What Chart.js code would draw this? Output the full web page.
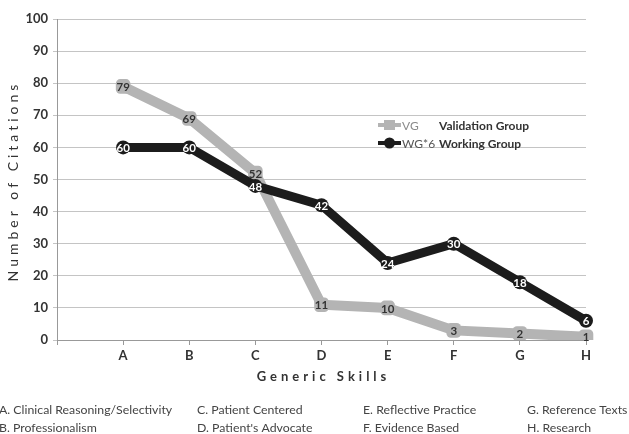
<!DOCTYPE html>
<html>
<head>
<meta charset="utf-8">
<script src="https://cdn.jsdelivr.net/npm/chart.js@4.4.1/dist/chart.umd.min.js"></script>
<style>
html,body{margin:0;padding:0;background:#fff;}
#wrap{width:629px;height:434px;position:relative;}
</style>
</head>
<body>
<div id="wrap"><canvas id="c" width="629" height="434"></canvas></div>
<script>
const categories = ['', 'A', 'B', 'C', 'D', 'E', 'F', 'G', 'H'];
const vgValues = [null, 79, 69, 52, 11, 10, 3, 2, 1];
const wgValues = [null, 60, 60, 48, 42, 24, 30, 18, 6];
const seriesNames = ['VG', 'WG*6'];
const seriesDescriptions = ['Validation Group', 'Working Group'];
const yTicks = [0, 10, 20, 30, 40, 50, 60, 70, 80, 90, 100];
const footnotes = [
  ['A. Clinical Reasoning/Selectivity', 'B. Professionalism'],
  ['C. Patient Centered', "D. Patient's Advocate"],
  ['E. Reflective Practice', 'F. Evidence Based'],
  ['G. Reference Texts', 'H. Research']
];
const yTitle = 'Number of Citations';
const xTitle = 'Generic Skills';

const FONT = 'Lato, "Open Sans", sans-serif';
const GRAY = '#b4b4b4';
const BLACK = '#1c1c1c';

const labelPlugin = {
  id: 'pointLabels',
  afterDatasetsDraw(chart) {
    const ctx = chart.ctx;
    ctx.save();
    ctx.font = 'bold 11.5px ' + FONT;
    ctx.textAlign = 'center';
    ctx.textBaseline = 'middle';
    chart.data.datasets.forEach((ds, i) => {
      const meta = chart.getDatasetMeta(i);
      meta.data.forEach((pt, j) => {
        const v = ds.data[j];
        if (v === null || v === undefined) return;
        ctx.fillStyle = ds.labelColor;
        ctx.fillText(String(v), pt.x, pt.y + 1);
      });
    });
    ctx.restore();
  }
};

function spacedText(ctx, text, spacing) {
  ctx.letterSpacing = spacing + 'px';
  return ctx.measureText(text).width - spacing;
}

const titlePlugin = {
  id: 'axisTitles',
  afterDraw(chart) {
    const ctx = chart.ctx;
    const a = chart.chartArea;
    ctx.save();
    ctx.fillStyle = '#333';
    ctx.textBaseline = 'middle';
    ctx.textAlign = 'left';
    ctx.font = 'bold 13px ' + FONT;
    let w = spacedText(ctx, xTitle, 4);
    ctx.fillText(xTitle, (a.left + a.right) / 2 - w / 2, 377);
    ctx.font = '14px ' + FONT;
    w = spacedText(ctx, yTitle, 4);
    ctx.translate(13, 183);
    ctx.rotate(-Math.PI / 2);
    ctx.fillText(yTitle, -w / 2, 0);
    ctx.restore();
  }
};

const legendPlugin = {
  id: 'insideLegend',
  afterDraw(chart) {
    const ctx = chart.ctx;
    ctx.save();
    const items = [
      {y: 125, color: GRAY, style: 'rect', name: seriesNames[0], desc: seriesDescriptions[0], txt: '#8a8a8a'},
      {y: 143, color: BLACK, style: 'circle', name: seriesNames[1], desc: seriesDescriptions[1], txt: '#555'}
    ];
    items.forEach(it => {
      ctx.strokeStyle = it.color;
      ctx.lineWidth = 4;
      ctx.beginPath();
      ctx.moveTo(378, it.y);
      ctx.lineTo(401, it.y);
      ctx.stroke();
      ctx.fillStyle = it.color;
      if (it.style === 'rect') {
        ctx.fillRect(384, it.y - 5, 11, 10);
      } else {
        ctx.beginPath();
        ctx.arc(389.5, it.y, 5.5, 0, Math.PI * 2);
        ctx.fill();
      }
      ctx.font = '12px ' + FONT;
      ctx.fillStyle = it.txt;
      ctx.textAlign = 'left';
      ctx.textBaseline = 'middle';
      ctx.fillText(it.name, 402, it.y + 1);
      ctx.font = 'bold 12px ' + FONT;
      ctx.fillStyle = '#333';
      ctx.fillText(it.desc, 439, it.y + 1);
    });
    ctx.restore();
  }
};

const footerPlugin = {
  id: 'footer',
  afterDraw(chart) {
    const ctx = chart.ctx;
    ctx.save();
    ctx.font = '12.3px ' + FONT;
    ctx.fillStyle = '#444';
    ctx.textAlign = 'left';
    ctx.textBaseline = 'middle';
    const xs = [-1, 197, 363, 527];
    footnotes.forEach((col, i) => {
      col.forEach((t, r) => {
        ctx.fillText(t, xs[i], 410 + r * 18);
      });
    });
    ctx.restore();
  }
};

new Chart(document.getElementById('c'), {
  type: 'line',
  data: {
    labels: categories,
    datasets: [
      {
        label: seriesNames[0],
        data: vgValues,
        borderColor: GRAY,
        backgroundColor: GRAY,
        borderWidth: 10,
        pointStyle: 'rectRounded',
        pointRadius: 8.5,
        pointBorderWidth: 0,
        pointHoverRadius: 8.5,
        labelColor: '#333',
        order: 1,
        tension: 0
      },
      {
        label: seriesNames[1],
        data: wgValues,
        borderColor: BLACK,
        backgroundColor: BLACK,
        borderWidth: 9,
        pointStyle: 'circle',
        pointRadius: 7,
        pointBorderWidth: 0,
        pointHoverRadius: 7,
        labelColor: '#fff',
        order: 0,
        tension: 0
      }
    ]
  },
  options: {
    responsive: false,
    animation: false,
    layout: {padding: {top: 19, right: 43, bottom: 44, left: 0}},
    plugins: {legend: {display: false}, tooltip: {enabled: false}},
    scales: {
      x: {
        offset: false,
        grid: {display: true, drawOnChartArea: false, tickLength: 5, color: '#999'},
        border: {color: '#999', width: 1},
        ticks: {color: '#333', font: {family: FONT, size: 13, weight: 'bold'}, padding: 3, maxRotation: 0, autoSkip: false},
        afterFit(s) { s.height = 50; }
      },
      y: {
        min: 0, max: 100,
        afterBuildTicks(s) { s.ticks = yTicks.map(v => ({value: v})); },
        grid: {color: '#c4c4c4', lineWidth: 1, tickLength: 4},
        border: {color: '#999', width: 1},
        ticks: {color: '#333', font: {family: FONT, size: 13, weight: 'bold'}, padding: 5},
        afterFit(s) { s.width = 57; }
      }
    }
  },
  plugins: [labelPlugin, titlePlugin, legendPlugin, footerPlugin]
});
</script>
</body>
</html>
